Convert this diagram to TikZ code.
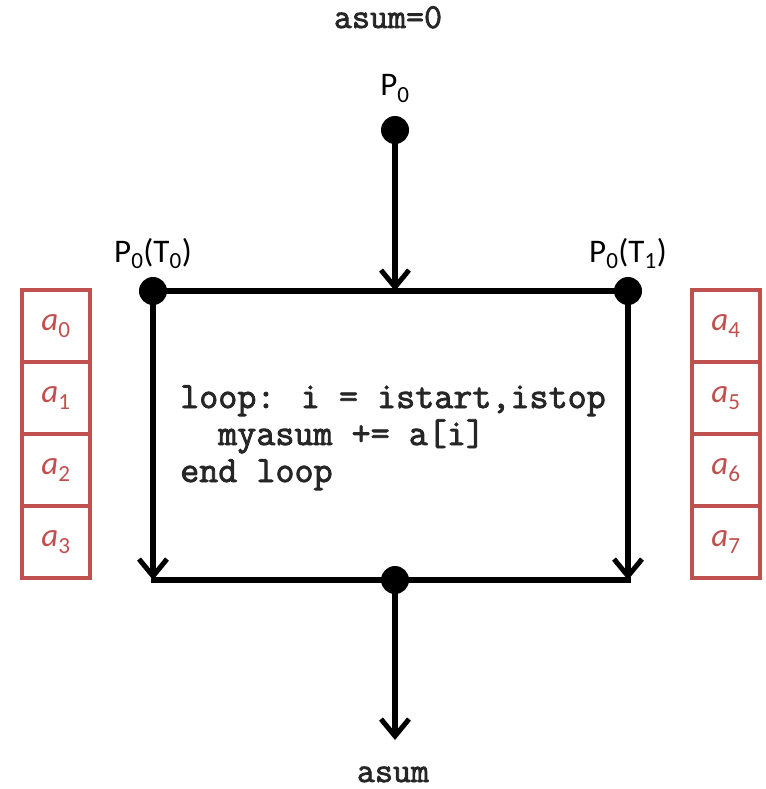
\documentclass[tikz,border=0pt]{standalone}
\usepackage{fontspec}
\setmainfont{Carlito}
\newfontfamily\codefont{Latin Modern Mono}[FakeBold=2.2]
\usetikzlibrary{arrows.meta}
\definecolor{cellred}{RGB}{192,80,77}
\tikzset{
  x=1pt, y=-1pt,
  flow/.style={line width=5.5pt, black},
  flowarrow/.style={flow, -{Straight Barb[length=17pt,width=28pt,line width=5pt]}},
  joint/.style={circle, fill=black, inner sep=0pt, minimum size=28pt},
  plabel/.style={font=\fontsize{33}{40}\selectfont, inner sep=0pt, anchor=base},
  code/.style={font=\codefont\fontsize{37}{42}\selectfont, inner sep=0pt, anchor=base west, text=black!85},
  codelabel/.style={font=\codefont\fontsize{35}{42}\selectfont, inner sep=0pt, anchor=base, text=black!85},
  cell/.style={draw=cellred, line width=4.5pt, minimum width=68pt, minimum height=72pt, inner sep=0pt,
    text=cellred, font=\fontsize{33}{40}\selectfont},
}
\newcommand{\elem}[1]{\textit{a}\textsubscript{#1}}
\begin{document}
\begin{tikzpicture}
\useasboundingbox (0,0) rectangle (765,789);

% labels
\node[codelabel] (init) at (388,28) {asum=0};
\node[codelabel] (result) at (393,782) {asum};
\node[plabel] (lp) at (395,96) {P\textsubscript{0}};
\node[plabel] (lt0) at (153,262) {P\textsubscript{0}(T\textsubscript{0})};
\node[plabel] (lt1) at (628,262) {P\textsubscript{0}(T\textsubscript{1})};

% joints
\node[joint] (p0) at (395,130) {};
\node[joint] (t0) at (153,291) {};
\node[joint] (t1) at (628,291) {};
\node[joint] (join) at (395,580) {};
\coordinate (fork) at (395,291);
\coordinate (b0) at (153,580);
\coordinate (b1) at (628,580);
\coordinate (out) at (395,740);

% flow lines
\draw[flow] (t0.center) -- (t1.center);
\draw[flowarrow] (p0.center) -- (fork);
\draw[flowarrow] (t0.center) -- (b0);
\draw[flowarrow] (t1.center) -- (b1);
\draw[flow] ([xshift=-2.5pt]b0) -- ([xshift=2.5pt]b1);
\draw[flowarrow] (join.center) -- (out);

% loop body
\node[code] (c1) at (180,408) {loop: i = istart,istop};
\node[code] (c2) at (218,445) {myasum += a[i]};
\node[code] (c3) at (180,482) {end loop};

% array halves
\foreach \i in {0,...,3} {
  \node[cell] (l\i) at (56,326+72*\i) {\elem{\i}};
}
\foreach \i [evaluate=\i as \k using int(\i+4)] in {0,...,3} {
  \node[cell] (r\i) at (726,326+72*\i) {\elem{\k}};
}
\end{tikzpicture}
\end{document}
